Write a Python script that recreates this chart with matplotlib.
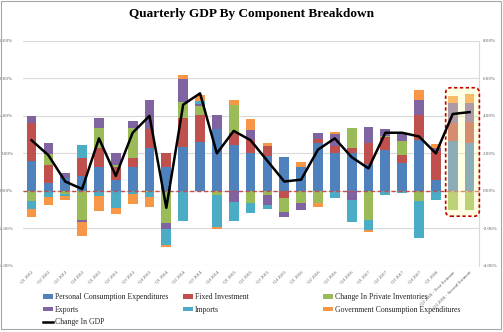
import numpy as np
import matplotlib.pyplot as plt
from matplotlib.patches import FancyBboxPatch, Rectangle

plt.rcParams['font.family'] = ['Liberation Serif', 'DejaVu Serif']

quarters = ['Q1 2012', 'Q2 2012', 'Q3 2012', 'Q4 2012',
            'Q1 2013', 'Q2 2013', 'Q3 2013', 'Q4 2013',
            'Q1 2014', 'Q2 2014', 'Q3 2014', 'Q4 2014',
            'Q1 2015', 'Q2 2015', 'Q3 2015', 'Q4 2015',
            'Q1 2016', 'Q2 2016', 'Q3 2016', 'Q4 2016',
            'Q1 2017', 'Q2 2017', 'Q3 2017', 'Q4 2017',
            'Q1 2018', 'Q2 2018 - First Estimate', 'Q2 2018 - Second Estimate']

# contributions to GDP growth, % points
pce = [1.62, 0.42, 0.70, 0.78, 1.30, 0.60, 1.25, 2.27, 1.25, 2.33,
       2.62, 3.29, 2.45, 2.00, 1.85, 1.82, 1.26, 2.54, 2.00, 2.00,
       1.45, 2.20, 1.47, 2.74, 0.58, 2.68, 2.54]
fixed_inv = [2.00, 0.98, 0.00, 0.98, 1.00, 0.68, 0.48, 1.01, 0.75, 1.55,
             1.43, 0.00, 0.62, 0.72, 0.53, -0.39, 0.00, 0.22, 0.40, 0.27,
             1.12, 0.65, 0.42, 1.28, 1.55, 0.94, 1.12]
inventories = [-0.53, 0.57, -0.16, -1.55, 1.07, 0.10, 1.61, -0.05, -1.70, 0.88,
               0.50, -0.21, 1.52, -0.64, -0.20, -0.71, -0.66, -0.67, 0.00, 1.07,
               -1.55, 0.10, 0.77, -0.53, 0.00, -1.02, -1.00]
exports = [0.35, 0.60, 0.27, -0.09, 0.50, 0.62, 0.41, 1.54, -0.32, 1.21,
           0.10, 0.73, -0.58, 0.53, -0.55, -0.27, -0.36, 0.35, 0.66, -0.48,
           0.82, 0.33, 0.37, 0.83, 0.15, 1.09, 1.05]
imports = [-0.43, -0.30, -0.10, 0.68, -0.25, -0.90, -0.18, -0.30, -0.86, -1.58,
           0.12, -1.74, -1.05, -0.52, -0.23, 0.00, 0.00, 0.00, -0.36, -1.16,
           -0.52, -0.20, -0.10, -2.00, -0.48, 0.00, 0.00]
government = [-0.41, -0.45, -0.25, -0.75, -0.80, -0.33, -0.52, -0.52, -0.12, 0.22,
              0.35, -0.09, 0.23, 0.59, 0.20, 0.00, 0.30, -0.17, 0.10, 0.00,
              -0.13, 0.00, 0.00, 0.52, 0.20, 0.36, 0.45]
gdp = [2.7, 1.9, 0.5, 0.1, 2.8, 0.8, 3.1, 4.0, -0.9, 4.6,
       5.2, 2.0, 3.2, 2.7, 1.6, 0.5, 0.6, 2.2, 2.8, 1.8,
       1.2, 3.1, 3.1, 2.9, 2.0, 4.1, 4.2]

series = [('Personal Consumption Expenditures', pce, '#4F81BD'),
          ('Fixed Investment', fixed_inv, '#C0504D'),
          ('Change In Private Inventories', inventories, '#9BBB59'),
          ('Exports', exports, '#8064A2'),
          ('Imports', imports, '#4BACC6'),
          ('Government Consumption Expenditures', government, '#F79646')]

fig = plt.figure(figsize=(5.03, 3.32), dpi=100)
ax = fig.add_axes([0.046, 0.199, 0.906, 0.678])

x = np.arange(len(quarters))
pos_base = np.zeros(len(x))
neg_base = np.zeros(len(x))
handles = {}
for name, vals, col in series:
    v = np.array(vals)
    bottom = np.where(v >= 0, pos_base, neg_base)
    h = ax.bar(x, v, 0.58, bottom=bottom, color=col, linewidth=0, zorder=2, label=name)
    handles[name] = h
    pos_base += np.where(v >= 0, v, 0)
    neg_base += np.where(v < 0, v, 0)

line, = ax.plot(x, gdp, color='black', lw=1.8, zorder=5, label='Change In GDP')
handles['Change In GDP'] = line

ax.axhline(0, color='#C0504D', lw=1.0, ls=(0, (3, 2)), zorder=3)

# highlight box around the two Q2 2018 estimates
n = len(x)
box = FancyBboxPatch((n - 2 - 0.42, -1.35), 2.0, 6.85,
                     boxstyle='round,pad=0,rounding_size=0.3',
                     facecolor='#FFFFB0', alpha=0.35, edgecolor='none',
                     zorder=4, clip_on=False)
ax.add_patch(box)
box_edge = FancyBboxPatch((n - 2 - 0.42, -1.35), 2.0, 6.85,
                          boxstyle='round,pad=0,rounding_size=0.3',
                          facecolor='none', edgecolor='#C00000', lw=1.2,
                          ls=(0, (2, 1.5)), zorder=4, clip_on=False)
ax.add_patch(box_edge)

ax.set_xlim(-0.5, n - 0.45)
ax.set_ylim(-4, 8)
yt = np.arange(-4, 9, 2)
ax.set_yticks(yt)
ax.set_yticklabels(['%.2f%%' % t for t in yt])
ax.grid(axis='y', color='#D9D9D9', lw=0.8, zorder=0)
ax.set_axisbelow(True)
for s in ['left', 'top', 'bottom']:
    ax.spines[s].set_visible(False)
ax.spines['right'].set_color('#D9D9D9')
ax.tick_params(axis='y', length=0, labelsize=3.6, labelcolor='#595959', pad=7)

ax2 = ax.twinx()
ax2.set_ylim(-4, 8)
ax2.set_yticks(yt)
ax2.set_yticklabels(['%.2f%%' % t for t in yt])
ax2.tick_params(axis='y', length=0, labelsize=3.6, labelcolor='#595959', pad=3)
for s in ['left', 'top', 'bottom', 'right']:
    ax2.spines[s].set_visible(False)

ax.set_xticks(x)
ax.set_xticklabels(quarters, rotation=45, ha='right', va='top',
                   rotation_mode='anchor', fontsize=3.4, color='#595959')
ax.tick_params(axis='x', length=0, pad=3)

fig.text(0.5, 0.958, 'Quarterly GDP By Component Breakdown',
         ha='center', va='center', fontsize=9.5, fontweight='bold')

cols = [['Personal Consumption Expenditures', 'Exports', 'Change In GDP'],
        ['Fixed Investment', 'Imports'],
        ['Change In Private Inventories', 'Government Consumption Expenditures']]
col_x = [43 / 503, 183 / 503, 323 / 503]
for names, cx in zip(cols, col_x):
    fig.legend([handles[k] for k in names], names, loc='upper left',
               bbox_to_anchor=(cx, 0.117), frameon=False, fontsize=5.6,
               handlelength=1.3, handleheight=0.5, handletextpad=0.2,
               labelspacing=0.6, borderpad=0, borderaxespad=0,
               labelcolor='#262626')

fig.patches.append(Rectangle((0.002, 0.008), 0.994, 0.99, transform=fig.transFigure,
                             fill=False, edgecolor='#A6A6A6', lw=0.8))

fig.savefig('out.png', dpi=100)
